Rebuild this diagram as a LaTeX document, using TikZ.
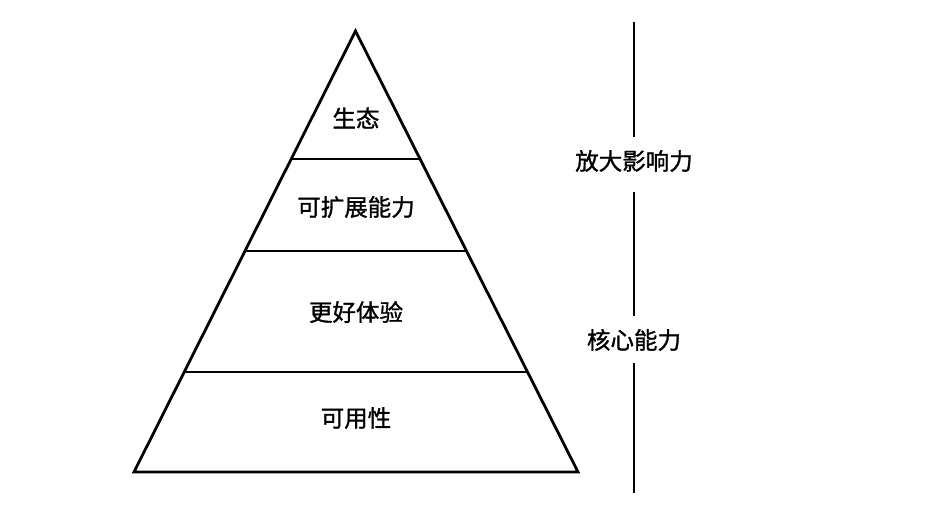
\documentclass[tikz,border=0pt]{standalone}
\usepackage{fontspec}
\newfontfamily\cjk{Noto Sans CJK SC}[FakeBold=1.2]
\begin{document}
\begin{tikzpicture}[x=1pt,y=-1pt,
  edge/.style={line width=2.8pt,line cap=butt,line join=miter},
  lbl/.style={font=\cjk\fontsize{23.5}{25}\selectfont,inner sep=0pt,text=black}]
\useasboundingbox (0,0) rectangle (938,504);
\coordinate (apex) at (355.5,31);
\coordinate (bl) at (134,472);
\coordinate (br) at (578,472);
\draw[edge] (bl) -- (apex) -- (br) -- cycle;
\coordinate (l1a) at (290.9,159); \coordinate (l1b) at (420.1,159);
\coordinate (l2a) at (244.3,251); \coordinate (l2b) at (466.7,251);
\coordinate (l3a) at (183.4,372); \coordinate (l3b) at (527.6,372);
\draw[edge] (l1a) -- (l1b);
\draw[edge] (l2a) -- (l2b);
\draw[edge] (l3a) -- (l3b);
\node[lbl] (t1) at (356,118) {生态};
\node[lbl] (t2) at (356,207) {可扩展能力};
\node[lbl] (t3) at (356,312) {更好体验};
\node[lbl] (t4) at (356,418) {可用性};
\node[lbl] (r1) at (634,161) {放大影响力};
\node[lbl] (r2) at (634,340) {核心能力};
\coordinate (vtop) at (634,22);
\coordinate (vbot) at (634,493);
\draw[edge] (vtop) -- (634,137);
\draw[edge] (634,192) -- (634,316);
\draw[edge] (634,363) -- (vbot);
\end{tikzpicture}
\end{document}
